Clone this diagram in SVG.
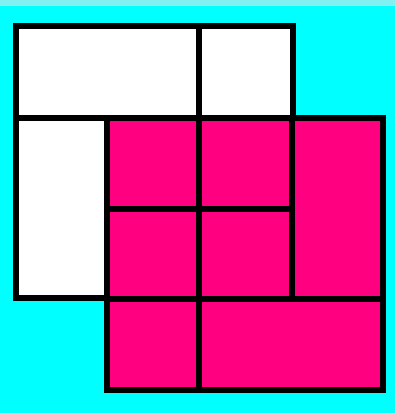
<svg xmlns="http://www.w3.org/2000/svg" width="395" height="413" viewBox="0 0 395 413">
<style>
.w{fill:#FFFFFF;stroke:#000000;stroke-width:6;stroke-linejoin:miter}
.m{fill:#FF0080;stroke:#000000;stroke-width:6;stroke-linejoin:miter}
</style>
<rect x="0" y="0" width="395" height="413" fill="#00FFFF"/>
<rect x="0" y="0" width="395" height="6" fill="#80F0F0"/>
<g id="white">
<rect class="w" x="16" y="26" width="183" height="92"/>
<rect class="w" x="199" y="26" width="94" height="92"/>
<rect class="w" x="16" y="118" width="91" height="180"/>
</g>
<g id="magenta">
<rect class="m" x="107" y="118" width="92" height="91"/>
<rect class="m" x="199" y="118" width="93" height="91"/>
<rect class="m" x="292" y="118" width="91" height="181"/>
<rect class="m" x="107" y="209" width="92" height="90"/>
<rect class="m" x="199" y="209" width="93" height="90"/>
<rect class="m" x="107" y="299" width="92" height="91"/>
<rect class="m" x="199" y="299" width="184" height="91"/>
</g>
</svg>
